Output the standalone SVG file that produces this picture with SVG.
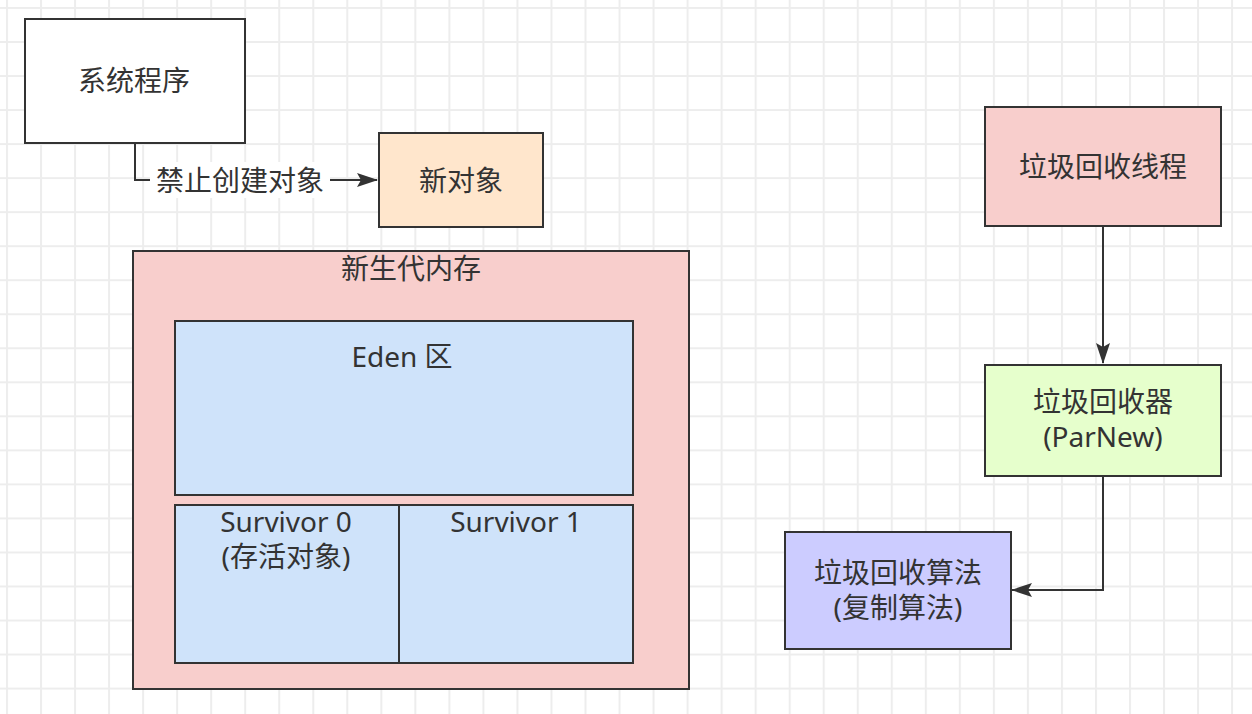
<svg xmlns="http://www.w3.org/2000/svg" width="1252" height="714" viewBox="0 0 1252 714">
<defs>
<pattern id="grid" patternUnits="userSpaceOnUse" x="6" y="7" width="34.03" height="34.03">
<path d="M1 0 V34.03 M0 1 H34.03" stroke="#ededed" stroke-width="2" fill="none"/>
</pattern>
<marker id="arr" markerUnits="userSpaceOnUse" markerWidth="22" markerHeight="14" refX="20" refY="7" orient="auto">
<path d="M0,0 L21,7 L0,14 L4,7 z" fill="#333"/>
</marker>
<style>
.box{stroke:#333;stroke-width:2}
.t{font-family:"Noto Sans","Noto Sans CJK SC",sans-serif;font-size:28px;fill:#333;text-anchor:middle;dominant-baseline:central}
.c{fill:none;stroke:#333;stroke-width:2}
</style>
</defs>
<rect width="1252" height="714" fill="#fff"/>
<rect width="1252" height="714" fill="url(#grid)"/>
<g id="connectors">
<path class="c" d="M135,143 V180 H377" marker-end="url(#arr)"/>
<rect x="150" y="162" width="180" height="36" fill="#fff"/>
<text class="t" x="240" y="180">禁止创建对象</text>
<path class="c" d="M1103,226 V363" marker-end="url(#arr)"/>
<path class="c" d="M1103,477 V590 H1012" marker-end="url(#arr)"/>
</g>
<g id="system">
<rect class="box" x="25" y="19" width="220" height="124" fill="#fff"/>
<text class="t" x="134" y="80">系统程序</text>
</g>
<g id="newobj">
<rect class="box" x="379" y="133" width="164" height="94" fill="#ffe6cc"/>
<text class="t" x="461" y="180">新对象</text>
</g>
<g id="young">
<rect class="box" x="133" y="251" width="556" height="438" fill="#f8cecc"/>
<text class="t" x="411" y="268">新生代内存</text>
</g>
<g id="eden">
<rect class="box" x="175" y="321" width="458" height="174" fill="#cfe3fa"/>
<text class="t" x="402" y="356">Eden 区</text>
</g>
<g id="s0">
<rect class="box" x="175" y="505" width="224" height="158" fill="#cfe3fa"/>
<text class="t" x="286" y="521">Survivor 0</text>
<text class="t" x="286" y="556">(存活对象)</text>
</g>
<g id="s1">
<rect class="box" x="399" y="505" width="234" height="158" fill="#cfe3fa"/>
<text class="t" x="516" y="521">Survivor 1</text>
</g>
<g id="gcthread">
<rect class="box" x="985" y="107" width="236" height="119" fill="#f8cecc"/>
<text class="t" x="1103" y="166">垃圾回收线程</text>
</g>
<g id="collector">
<rect class="box" x="985" y="365" width="236" height="111" fill="#e6ffcc"/>
<text class="t" x="1103" y="401">垃圾回收器</text>
<text class="t" x="1103" y="436">(ParNew)</text>
</g>
<g id="algo">
<rect class="box" x="785" y="532" width="226" height="117" fill="#ccccff"/>
<text class="t" x="898" y="572">垃圾回收算法</text>
<text class="t" x="898" y="607">(复制算法)</text>
</g>
</svg>
